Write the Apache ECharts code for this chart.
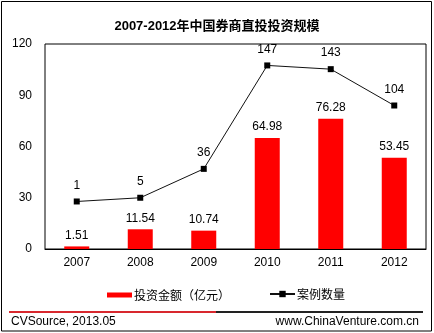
<!DOCTYPE html>
<html>
<head>
<meta charset="utf-8">
<script src="https://cdn.jsdelivr.net/npm/echarts@6/dist/echarts.min.js"></script>
<style>html,body{margin:0;padding:0;background:#fff}#c{width:434px;height:333px}</style>
</head>
<body>
<div id="c"></div>
<script>
const categories = ['2007', '2008', '2009', '2010', '2011', '2012'];
const amountValues = [1.51, 11.54, 10.74, 64.98, 76.28, 53.45];
const caseValues = [1, 5, 36, 147, 143, 104];
const leftTicks = [0, 30, 60, 90, 120];
const titleText = '2007-2012年中国券商直投投资规模';
const amountName = '投资金额（亿元）';
const caseName = '案例数量';
const sourceText = 'CVSource, 2013.05';
const siteText = 'www.ChinaVenture.com.cn';

const FONT = '"Liberation Sans", Arial, "Noto Sans CJK SC", sans-serif';
const chart = echarts.init(document.getElementById('c'), null, {renderer: 'canvas'});
chart.setOption({
  animation: false,
  backgroundColor: '#fff',
  title: {
    text: titleText, left: 'center', top: 15,
    textStyle: {fontFamily: '"Liberation Sans", "Noto Sans CJK SC", sans-serif', fontWeight: 'bold', fontSize: 13, color: '#000'}
  },
  grid: {left: 45, right: 8, top: 44, bottom: 84, containLabel: false, show: true, borderColor: '#000', borderWidth: 1, backgroundColor: 'transparent'},
  legend: [{
    data: [{name: amountName, icon: 'rect'}], left: 102, top: 284, itemWidth: 25, itemHeight: 5, itemGap: 0,
    textStyle: {fontFamily: '"Noto Sans CJK SC", sans-serif', fontSize: 12, color: '#000', padding: [0, 0, 0, -3]}
  }, {
    data: [caseName], left: 264, top: 283, itemWidth: 25, itemHeight: 8, itemGap: 0,
    textStyle: {fontFamily: '"Noto Sans CJK SC", sans-serif', fontSize: 12, color: '#000', padding: [0, 0, 0, -3]}
  }],
  xAxis: {
    type: 'category', data: categories,
    axisLine: {show: true, lineStyle: {color: '#000'}},
    axisTick: {show: false},
    axisLabel: {color: '#000', fontFamily: FONT, fontSize: 12, margin: 8},
    splitLine: {show: false}
  },
  yAxis: [{
    type: 'value', min: leftTicks[0], max: leftTicks[leftTicks.length - 1], interval: 30,
    axisLine: {show: false}, axisTick: {show: false}, splitLine: {show: false},
    axisLabel: {color: '#000', fontFamily: FONT, fontSize: 12, margin: 13}
  }, {
    type: 'value', min: -50, max: 170, show: false, splitLine: {show: false}
  }],
  series: [{
    name: amountName, type: 'bar', data: amountValues, yAxisIndex: 0, barWidth: 25,
    itemStyle: {color: '#FF0000'},
    label: {show: true, position: 'top', distance: 5, color: '#000', fontFamily: FONT, fontSize: 12}
  }, {
    name: caseName, type: 'line', data: caseValues, yAxisIndex: 1,
    symbol: 'rect', symbolSize: 6,
    lineStyle: {color: '#111', width: 1},
    itemStyle: {color: '#000'},
    label: {show: true, position: 'top', distance: 7, color: '#000', fontFamily: FONT, fontSize: 12}
  }],
  graphic: [
    {type: 'rect', shape: {x: 1.5, y: 1.5, width: 430, height: 329.5}, style: {fill: 'none', stroke: '#000', lineWidth: 1}, z: 100},
    {type: 'line', shape: {x1: 9, y1: 312, x2: 216, y2: 312}, style: {stroke: '#D8282E', lineWidth: 2}, z: 100},
    {type: 'line', shape: {x1: 216, y1: 312, x2: 423, y2: 312}, style: {stroke: '#222', lineWidth: 2}, z: 100},
    {type: 'text', left: 11, top: 316, style: {text: sourceText, fill: '#000', font: '12px "Liberation Sans", Arial, sans-serif'}, z: 100},
    {type: 'text', right: 15, top: 316, style: {text: siteText, fill: '#000', font: '12px "Liberation Sans", Arial, sans-serif'}, z: 100}
  ]
});
</script>
</body>
</html>
